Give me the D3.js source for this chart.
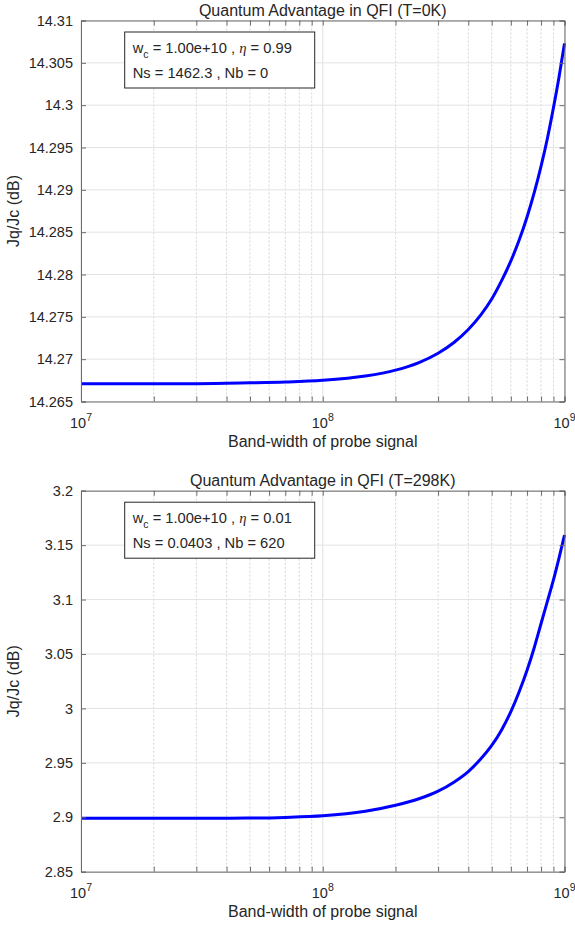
<!DOCTYPE html>
<html>
<head>
<meta charset="utf-8">
<script src="https://cdn.jsdelivr.net/npm/d3@7"></script>
<style>
  body { margin: 0; background: #fff; }
  svg text { font-family: Arial, "Liberation Sans", Helvetica, sans-serif; fill: #262626; }
</style>
</head>
<body>
<div class="wrapper"></div>
<script>
// band-width of the probe signal (x values, Hz)
var bandwidth = [1e7, 2e7, 3e7, 5e7, 7e7, 1e8, 1.5e8, 2e8, 2.5e8, 3e8, 3.5e8, 4e8, 4.5e8,
                 5e8, 5.5e8, 6e8, 6.5e8, 7e8, 7.5e8, 8e8, 8.5e8, 9e8, 9.5e8, 1e9];

// Jq/Jc in dB
var advantage0K = [14.2671, 14.2671, 14.2671, 14.2672, 14.2673, 14.2675, 14.2680, 14.2687,
                   14.2696, 14.2707, 14.2720, 14.2735, 14.2752, 14.2771, 14.2793, 14.2816,
                   14.2841, 14.2868, 14.2897, 14.2928, 14.2961, 14.2997, 14.3034, 14.3073];
var advantage298K = [2.8990, 2.8990, 2.8991, 2.8993, 2.8999, 2.9013, 2.9055, 2.9110,
                     2.9170, 2.9240, 2.9325, 2.9420, 2.9535, 2.9660, 2.9805, 2.9970,
                     3.0155, 3.0350, 3.0560, 3.0780, 3.0985, 3.1180, 3.1385, 3.1593];

var yTicks0K = [14.265, 14.27, 14.275, 14.28, 14.285, 14.29, 14.295, 14.3, 14.305, 14.31];
var yTicks298K = [2.85, 2.9, 2.95, 3, 3.05, 3.1, 3.15, 3.2];
var xMajor = [1e7, 1e8, 1e9];
var xMinor = [2e7, 3e7, 4e7, 5e7, 6e7, 7e7, 8e7, 9e7, 2e8, 3e8, 4e8, 5e8, 6e8, 7e8, 8e8, 9e8];

var titles = ["Quantum Advantage in QFI (T=0K)", "Quantum Advantage in QFI (T=298K)"];
var boxLines0K = ["1.00e+10", "0.99", "Ns = 1462.3 , Nb = 0"];
var boxLines298K = ["1.00e+10", "0.01", "Ns = 0.0403 , Nb = 620"];

var W = 575, H = 927;
var svg = d3.select(".wrapper").append("svg")
    .attr("width", W)
    .attr("height", H);

function drawPanel(top, title, yvals, yTicks, boxLines) {
    var left = 81, right = 564.5, height = 381;
    var bottom = top + height;

    var x = d3.scaleLog().domain([1e7, 1e9]).range([left, right]);
    var y = d3.scaleLinear().domain([yTicks[0], yTicks[yTicks.length - 1]]).range([bottom, top]);

    var g = svg.append("g");

    // grid
    g.append("g").selectAll("line").data(xMinor).enter().append("line")
        .attr("x1", function(d) { return x(d); }).attr("x2", function(d) { return x(d); })
        .attr("y1", top).attr("y2", bottom)
        .attr("stroke", "#d4d4d4").attr("stroke-width", 1)
        .attr("stroke-dasharray", "2,2");
    g.append("g").selectAll("line").data(xMajor).enter().append("line")
        .attr("x1", function(d) { return x(d); }).attr("x2", function(d) { return x(d); })
        .attr("y1", top).attr("y2", bottom)
        .attr("stroke", "#e0e0e0").attr("stroke-width", 1);
    g.append("g").selectAll("line").data(yTicks).enter().append("line")
        .attr("x1", left).attr("x2", right)
        .attr("y1", function(d) { return y(d); }).attr("y2", function(d) { return y(d); })
        .attr("stroke", "#e3e3e3").attr("stroke-width", 1);

    // curve
    var line = d3.line()
        .x(function(d, i) { return x(bandwidth[i]); })
        .y(function(d) { return y(d); })
        .curve(d3.curveMonotoneX);
    g.append("path").datum(yvals)
        .attr("d", line)
        .attr("fill", "none")
        .attr("stroke", "#0000ff")
        .attr("stroke-width", 3);

    // axes (ticks point inward, as in matlab)
    var tickAll = xMajor.concat(xMinor);
    var ax = g.append("g").attr("transform", "translate(0," + bottom + ")")
        .call(d3.axisBottom(x).tickValues(tickAll).tickSize(-5).tickFormat(""));
    var axTop = g.append("g").attr("transform", "translate(0," + top + ")")
        .call(d3.axisTop(x).tickValues(tickAll).tickSize(-5).tickFormat(""));
    var ay = g.append("g").attr("transform", "translate(" + left + ",0)")
        .call(d3.axisLeft(y).tickValues(yTicks).tickSize(-5).tickPadding(8)
            .tickFormat(function(d) { return String(+d.toFixed(3)); }));
    var ayR = g.append("g").attr("transform", "translate(" + right + ",0)")
        .call(d3.axisRight(y).tickValues(yTicks).tickSize(-5).tickFormat(""));

    [ax, axTop, ay, ayR].forEach(function(a) {
        a.select(".domain").attr("stroke", "#6b6b6b");
        a.selectAll(".tick line").attr("stroke", "#6b6b6b");
    });
    ay.selectAll(".tick text")
        .style("font-size", "14.5px")
        .attr("fill", "#262626");

    // 10^n tick labels
    g.append("g").selectAll("text").data(xMajor).enter().append("text")
        .attr("x", function(d) { return x(d); })
        .attr("y", bottom + 26.5)
        .attr("text-anchor", "middle")
        .style("font-size", "14.5px")
        .each(function(d) {
            var t = d3.select(this);
            t.append("tspan").text("10");
            t.append("tspan").attr("dy", -7).style("font-size", "10.5px")
                .text(Math.round(Math.log10(d)));
        });

    // title + labels
    g.append("text")
        .attr("x", (left + right) / 2).attr("y", top - 4.5)
        .attr("text-anchor", "middle")
        .style("font-size", "16px")
        .attr("fill", "#000")
        .text(title);
    g.append("text")
        .attr("x", (left + right) / 2).attr("y", bottom + 45.5)
        .attr("text-anchor", "middle")
        .style("font-size", "16px")
        .text("Band-width of probe signal");
    g.append("text")
        .attr("transform", "translate(19," + (top + height / 2) + ")rotate(-90)")
        .attr("text-anchor", "middle")
        .style("font-size", "16px")
        .text("Jq/Jc (dB)");

    // text box
    var bx = 124.7, by = top + 11.5;
    g.append("rect")
        .attr("x", bx).attr("y", by)
        .attr("width", 190).attr("height", 56)
        .attr("fill", "#fff")
        .attr("stroke", "#262626").attr("stroke-width", 1);
    var t1 = g.append("text")
        .attr("x", bx + 8).attr("y", by + 21)
        .style("font-size", "14.7px")
        .attr("fill", "#000");
    t1.append("tspan").text("w");
    t1.append("tspan").attr("dy", 5).style("font-size", "10.5px").text("c");
    t1.append("tspan").attr("dy", -5).text(" = " + boxLines[0] + " , ");
    t1.append("tspan")
        .style("font-family", "'Liberation Serif', 'Times New Roman', serif")
        .style("font-style", "italic")
        .text("\u03b7");
    t1.append("tspan").text(" = " + boxLines[1]);
    g.append("text")
        .attr("x", bx + 8).attr("y", by + 45.5)
        .style("font-size", "14.7px")
        .attr("fill", "#000")
        .text(boxLines[2]);
}

drawPanel(20.5, titles[0], advantage0K, yTicks0K, boxLines0K);
drawPanel(490.7, titles[1], advantage298K, yTicks298K, boxLines298K);
</script>
</body>
</html>
